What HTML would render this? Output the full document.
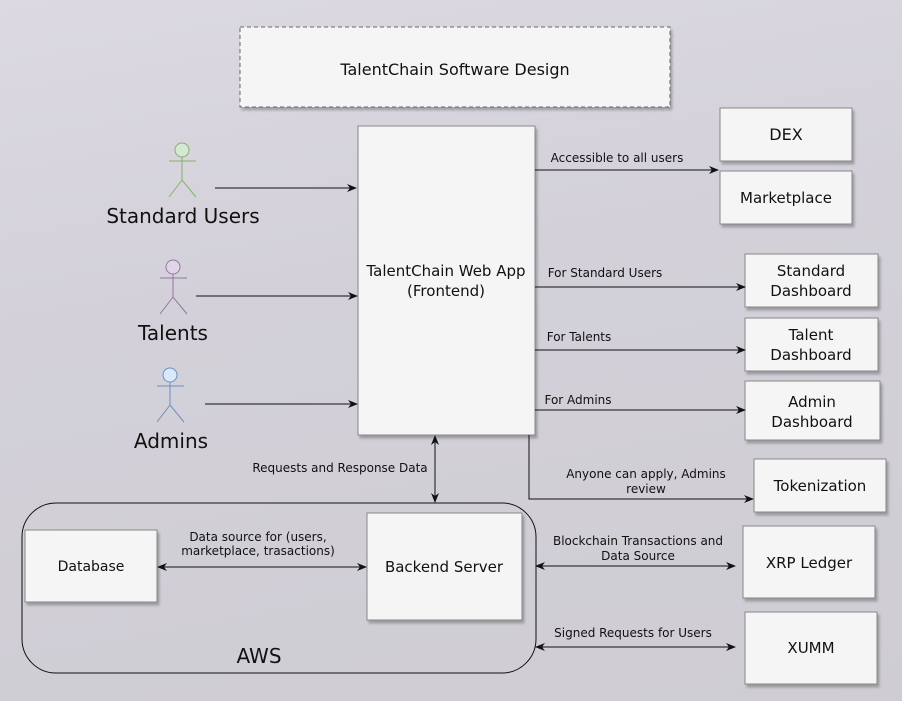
<!DOCTYPE html>
<html><head><style>
html,body{margin:0;padding:0;}
body{width:902px;height:701px;overflow:hidden;background:linear-gradient(170deg,#dcd9e2 0%,#d3d0d9 40%,#cfcdd3 100%);}
svg{display:block;font-family:"DejaVu Sans","Liberation Sans",sans-serif;}
</style></head><body>
<svg width="902" height="701" viewBox="0 0 902 701" xmlns="http://www.w3.org/2000/svg">
<defs>
<marker id="a" markerWidth="10" markerHeight="8" refX="9" refY="4" orient="auto-start-reverse" markerUnits="userSpaceOnUse">
<path d="M0,0 L10,4 L0,8 L3,4 Z" fill="#111"/></marker>
<filter id="s" x="-10%" y="-10%" width="130%" height="130%"><feDropShadow dx="2" dy="3" stdDeviation="1.2" flood-color="#000" flood-opacity="0.25"/></filter>
</defs>
<g fill="#f5f5f5" stroke="#888" stroke-width="1" filter="url(#s)">
<rect x="240" y="27" width="430" height="80" stroke-dasharray="4,3" stroke="#666"/>
<rect x="358" y="126" width="177" height="309"/>
<rect x="720" y="108" width="132" height="53"/>
<rect x="720" y="171" width="132" height="53"/>
<rect x="745" y="254" width="133" height="53"/>
<rect x="745" y="318" width="133" height="53"/>
<rect x="745" y="381" width="135" height="59"/>
<rect x="754" y="459" width="132" height="53"/>
<rect x="743" y="526" width="132" height="72"/>
<rect x="745" y="612" width="132" height="72"/>
<rect x="25" y="530" width="132" height="72"/>
<rect x="367" y="513" width="155" height="107"/>
</g>
<rect x="22" y="503" width="514" height="170" rx="34" fill="none" stroke="#111" stroke-width="1"/>
<g stroke="#111" stroke-width="1" fill="none">
<line x1="215" y1="188" x2="356" y2="188" marker-end="url(#a)"/>
<line x1="196" y1="296" x2="357" y2="296" marker-end="url(#a)"/>
<line x1="205" y1="404" x2="357" y2="404" marker-end="url(#a)"/>
<line x1="535" y1="170" x2="718" y2="170" marker-end="url(#a)"/>
<line x1="535" y1="287" x2="745" y2="287" marker-end="url(#a)"/>
<line x1="535" y1="350" x2="745" y2="350" marker-end="url(#a)"/>
<line x1="535" y1="410" x2="745" y2="410" marker-end="url(#a)"/>
<polyline points="529,435 529,499 753,499" marker-end="url(#a)"/>
<line x1="435" y1="436" x2="435" y2="502" marker-start="url(#a)" marker-end="url(#a)"/>
<line x1="158" y1="567" x2="366" y2="567" marker-start="url(#a)" marker-end="url(#a)"/>
<line x1="536" y1="566" x2="735" y2="566" marker-start="url(#a)" marker-end="url(#a)"/>
<line x1="536" y1="647" x2="735" y2="647" marker-start="url(#a)" marker-end="url(#a)"/>
</g>
<g fill="none" stroke-width="1">
<g stroke="#82b366"><circle cx="182" cy="150" r="7" fill="#d5e8d4"/><line x1="182" y1="157" x2="182" y2="180"/><line x1="169" y1="161" x2="196" y2="161"/><polyline points="169,197 182,180 196,197"/></g>
<g stroke="#9673a6"><circle cx="173" cy="267" r="7" fill="#e1d5e7"/><line x1="173" y1="274" x2="173" y2="297"/><line x1="160" y1="278" x2="187" y2="278"/><polyline points="160,314 173,297 187,314"/></g>
<g stroke="#6c8ebf"><circle cx="170" cy="375" r="7" fill="#dae8fc"/><line x1="170" y1="382" x2="170" y2="405"/><line x1="157" y1="386" x2="184" y2="386"/><polyline points="157,422 170,405 184,422"/></g>
</g>
<g fill="#111" text-anchor="middle">
<text x="455" y="75" font-size="16">TalentChain Software Design</text>
<text x="183" y="223" font-size="20">Standard Users</text>
<text x="173" y="340" font-size="20">Talents</text>
<text x="171" y="448" font-size="20">Admins</text>
<text x="446" y="276" font-size="15">TalentChain Web App</text>
<text x="446" y="296" font-size="15">(Frontend)</text>
<text x="786" y="140" font-size="16">DEX</text>
<text x="786" y="203" font-size="15">Marketplace</text>
<text x="811" y="276" font-size="15">Standard</text>
<text x="811" y="296" font-size="15">Dashboard</text>
<text x="811" y="340" font-size="15">Talent</text>
<text x="811" y="360" font-size="15">Dashboard</text>
<text x="812" y="407" font-size="15">Admin</text>
<text x="812" y="427" font-size="15">Dashboard</text>
<text x="820" y="491" font-size="15">Tokenization</text>
<text x="809" y="568" font-size="15">XRP Ledger</text>
<text x="811" y="653" font-size="15">XUMM</text>
<text x="91" y="571" font-size="14">Database</text>
<text x="444" y="572" font-size="15">Backend Server</text>
<text x="259" y="663" font-size="20">AWS</text>
<g font-size="12">
<text x="617" y="162">Accessible to all users</text>
<text x="605" y="277">For Standard Users</text>
<text x="579" y="341">For Talents</text>
<text x="578" y="404">For Admins</text>
<text x="646" y="478">Anyone can apply, Admins</text>
<text x="646" y="493">review</text>
<text x="340" y="472">Requests and Response Data</text>
<text x="258" y="541">Data source for (users,</text>
<text x="258" y="555">marketplace, trasactions)</text>
<text x="638" y="545">Blockchain Transactions and</text>
<text x="638" y="560">Data Source</text>
<text x="633" y="637">Signed Requests for Users</text>
</g>
</g>
</svg>
</body></html>
